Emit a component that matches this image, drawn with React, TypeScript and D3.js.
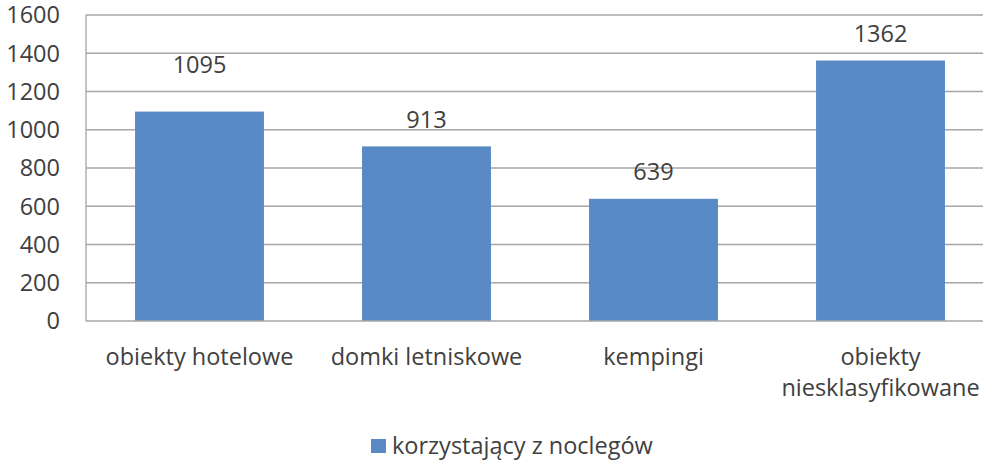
import React from "react";
import * as d3 from "d3";

const categories: string[][] = [
  ["obiekty hotelowe"],
  ["domki letniskowe"],
  ["kempingi"],
  ["obiekty", "niesklasyfikowane"],
];
const values: number[] = [1095, 913, 639, 1362];
const yTicks: number[] = [0, 200, 400, 600, 800, 1000, 1200, 1400, 1600];
const seriesName = "korzystający z noclegów";
const labelLift: number[] = [47, 27, 27, 27];

const W = 983;
const H = 460;
const margin = { left: 86, right: -11, top: 15, bottom: 139 };
const FONT = "'Open Sans', sans-serif";
const TEXT = "#404040";
const GRID = "#a6a6a6";
const BAR = "#5a8ac6";
const FS = 23.5;

export default function App() {
  const x = d3
    .scaleBand<number>()
    .domain(d3.range(values.length))
    .range([margin.left, W - margin.right])
    .paddingInner(0.432)
    .paddingOuter(0.216);
  const y = d3
    .scaleLinear()
    .domain([0, 1600])
    .range([H - margin.bottom, margin.top]);

  const x0 = margin.left;
  const x1 = W - margin.right;
  return (
    <svg
      width={W}
      height={H}
      style={{ position: "absolute", left: 0, top: 0, background: "#fff" }}
      fontFamily={FONT}
    >
      {yTicks.map((t) => (
        <g key={t}>
          {t > 0 && (
            <line x1={x0} x2={x1} y1={y(t)} y2={y(t)} stroke={GRID} strokeWidth={1.3} />
          )}
          <text
            x={60}
            y={y(t)}
            dy="0.36em"
            textAnchor="end"
            fontSize={FS}
            fill={TEXT}
          >
            {t}
          </text>
        </g>
      ))}
      <line x1={x0} x2={x0} y1={y(1600)} y2={y(0)} stroke={GRID} strokeWidth={1.3} />
      {values.map((v, i) => (
        <g key={i}>
          <rect
            x={x(i)}
            y={y(v)}
            width={x.bandwidth()}
            height={y(0) - y(v)}
            fill={BAR}
          />
          <text
            x={(x(i) as number) + x.bandwidth() / 2}
            y={y(v) - labelLift[i]}
            dy="0.36em"
            textAnchor="middle"
            fontSize={FS}
            fill={TEXT}
          >
            {v}
          </text>
          {categories[i].map((line, j) => (
            <text
              key={j}
              x={(x(i) as number) + x.bandwidth() / 2}
              y={357 + j * 31}
              dy="0.36em"
              textAnchor="middle"
              fontSize={FS}
              fill={TEXT}
            >
              {line}
            </text>
          ))}
        </g>
      ))}
      <line x1={x0} x2={x1} y1={y(0)} y2={y(0)} stroke={GRID} strokeWidth={1.3} />
      <rect x={371} y={439} width={15} height={14} fill={BAR} />
      <text x={392} y={446} dy="0.36em" fontSize={FS} fill={TEXT}>
        {seriesName}
      </text>
    </svg>
  );
}
